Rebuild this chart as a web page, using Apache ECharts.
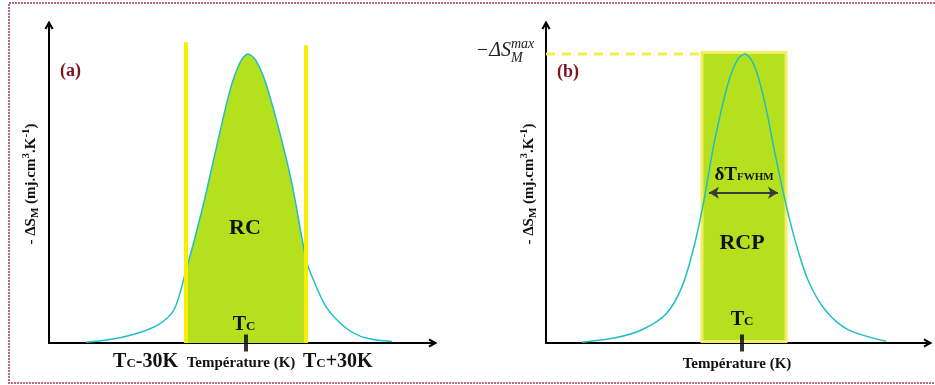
<!DOCTYPE html>
<html>
<head>
<meta charset="utf-8">
<script src="https://cdn.jsdelivr.net/npm/echarts@6/dist/echarts.min.js"></script>
<style>
html, body { margin: 0; padding: 0; background: #fff; }
#main { width: 935px; height: 385px; }
</style>
</head>
<body>
<div id="main"></div>
<script>
// temperature relative to Tc (K) and -dS_M normalised to its maximum
var tempA = [-80, -68, -56, -44, -36, -30, -22, -15, -8, -3, 1, 5, 10, 17, 23, 30, 33, 40, 50, 60, 73];
var dsA = [0.003, 0.012, 0.03, 0.063, 0.115, 0.25, 0.46, 0.67, 0.874, 0.97, 1.0, 0.977, 0.897, 0.724, 0.55, 0.29, 0.23, 0.126, 0.052, 0.017, 0.005];

var tempB = [-80, -64, -50, -38, -30, -24, -19, -14, -7, -2, 1.5, 6.5, 11.5, 16.5, 21.5, 26.5, 33, 41.5, 53, 72];
var dsB = [0.003, 0.017, 0.046, 0.10, 0.195, 0.333, 0.494, 0.69, 0.897, 0.983, 1.0, 0.954, 0.828, 0.655, 0.494, 0.356, 0.218, 0.115, 0.046, 0.006];

var bandA = [-30, 30];      // Tc-30K .. Tc+30K
var bandB = [-20, 22];      // full width at half maximum
var fwhmArrow = [-16.5, 18];
var peakB = 1.0;

var serif = '"Liberation Serif", "DejaVu Serif", serif';
var green = '#b4e01e';
var teal = '#1fbfc6';
var yellow = '#f7ef00';

function pairs(xs, ys) {
    var out = [];
    for (var i = 0; i < xs.length; i++) out.push([xs[i], ys[i]]);
    return out;
}
function inside(xs, ys, lo, hi) {
    var out = [];
    for (var i = 0; i < xs.length; i++) {
        if (xs[i] >= lo && xs[i] <= hi) out.push([xs[i], ys[i]]);
    }
    return out;
}

var curveA = pairs(tempA, dsA);
var curveB = pairs(tempB, dsB);
var fillA = inside(tempA, dsA, bandA[0], bandA[1]);

var chevron = 'path://M5,0 L10,9 L8,10 L5,5 L2,10 L0,9 Z';

function axisX(min, max) {
    return {
        type: 'value', min: min, max: max,
        axisLine: { show: true, onZero: false, symbol: ['none', chevron], symbolSize: [9, 10],
            lineStyle: { color: '#000', width: 2 } },
        axisTick: { show: false }, axisLabel: { show: false }, splitLine: { show: false }
    };
}
function axisY(gi, gap) {
    return {
        type: 'value', min: 0, max: 1.1, gridIndex: gi,
        axisLine: { show: true, onZero: false, symbol: ['none', chevron], symbolSize: [9, 10],
            lineStyle: { color: '#000', width: 2 } },
        axisTick: { show: false }, axisLabel: { show: false }, splitLine: { show: false },
        name: '- \u0394S{sub|M} (mj.cm{sup|3}.K{sup|-1})',
        nameLocation: 'middle', nameRotate: 90, nameGap: gap,
        nameTextStyle: {
            fontFamily: serif, fontWeight: 'bold', fontSize: 15, color: '#111', lineHeight: 20,
            rich: {
                sub: { fontFamily: serif, fontWeight: 'bold', fontSize: 11, verticalAlign: 'bottom', lineHeight: 20 },
                sup: { fontFamily: serif, fontWeight: 'bold', fontSize: 11, verticalAlign: 'top', lineHeight: 20 }
            }
        }
    };
}

var xa = axisX(-98.5, 93.5); xa.gridIndex = 0;
var xb = axisX(-98, 93); xb.gridIndex = 1;

var option = {
    animation: false,
    backgroundColor: '#fff',
    grid: [
        { left: 49, top: 25, width: 384, height: 318, outerBoundsMode: 'none' },
        { left: 546, top: 25, width: 382, height: 318, outerBoundsMode: 'none' }
    ],
    xAxis: [xa, xb],
    yAxis: [axisY(0, 8), axisY(1, 7)],
    series: [
        // (a) refrigerant capacity area
        { type: 'line', xAxisIndex: 0, yAxisIndex: 0, data: fillA, smooth: 0.3, symbol: 'none',
          lineStyle: { width: 0 }, areaStyle: { color: green, opacity: 1 }, z: 1 },
        { type: 'line', xAxisIndex: 0, yAxisIndex: 0, data: curveA, smooth: 0.3, symbol: 'none',
          lineStyle: { color: teal, width: 1.5 }, z: 2 },
        { type: 'line', xAxisIndex: 0, yAxisIndex: 0, data: [[bandA[0], 0], [bandA[0], 1.04]], symbol: 'none',
          lineStyle: { color: yellow, width: 4 }, z: 3 },
        { type: 'line', xAxisIndex: 0, yAxisIndex: 0, data: [[bandA[1], 0], [bandA[1], 1.03]], symbol: 'none',
          lineStyle: { color: yellow, width: 4 }, z: 3 },
        { type: 'scatter', xAxisIndex: 0, yAxisIndex: 0, data: [[0, 0]], symbol: 'rect', symbolSize: [4, 17],
          itemStyle: { color: '#000' }, z: 5 },

        // (b) relative cooling power rectangle
        { type: 'line', xAxisIndex: 1, yAxisIndex: 1, data: [[-98, peakB], [bandB[0], peakB]], symbol: 'none',
          lineStyle: { color: '#f6ee4a', width: 3, type: [9, 7] }, z: 1,
          markArea: { silent: true,
              itemStyle: { color: green, borderColor: '#f2ee60', borderWidth: 3 },
              data: [[{ coord: [bandB[0], 0.005] }, { coord: [bandB[1], peakB + 0.005] }]] } },
        { type: 'line', xAxisIndex: 1, yAxisIndex: 1, data: curveB, smooth: 0.3, symbol: 'none',
          lineStyle: { color: teal, width: 1.5 }, z: 2,
          markLine: { silent: true, symbol: ['arrow', 'arrow'], symbolSize: [9, 10],
              lineStyle: { color: '#3a3a3a', width: 2, type: 'solid' }, label: { show: false },
              data: [[{ coord: [fwhmArrow[0], 0.52] }, { coord: [fwhmArrow[1], 0.52] }]] } },
        { type: 'scatter', xAxisIndex: 1, yAxisIndex: 1, data: [[0, 0]], symbol: 'rect', symbolSize: [4, 17],
          itemStyle: { color: '#000' }, z: 5 }
    ]
};

var chart = echarts.init(document.getElementById('main'));
chart.setOption(option);

function px(g, x, y) { return chart.convertToPixel({ gridIndex: g }, [x, y]); }

var tcRich = {
    t: { fontFamily: serif, fontWeight: 'bold', fontSize: 20, color: '#111' },
    c: { fontFamily: serif, fontWeight: 'bold', fontSize: 13, color: '#111', verticalAlign: 'bottom', padding: [0, 0, 2, 0] }
};
function txt(x, y, text, size, align, extra) {
    var st = { text: text, x: x, y: y, fill: '#111', font: 'bold ' + size + 'px ' + serif,
        align: align || 'center', verticalAlign: 'middle' };
    if (extra) for (var k in extra) st[k] = extra[k];
    return { type: 'text', z: 20, style: st };
}

var a0 = px(0, 0, 0), aL = px(0, bandA[0], 0), aR = px(0, bandA[1], 0);
var b0 = px(1, 0, 0), bTop = px(1, -98, peakB);

chart.setOption({
    graphic: [
        { type: 'rect', z: 0, shape: { x: 9, y: 3, width: 940, height: 380 },
          style: { fill: null, stroke: '#b76b7a', lineWidth: 2, lineDash: [2, 1] } },
        txt(60, 71, '(a)', 18, 'left', { fill: '#7d1420' }),
        txt(557, 72, '(b)', 18, 'left', { fill: '#7d1420' }),
        txt(a0[0] - 2, px(0, 0, 0.062)[1], '{t|T}{c|C}', 20, 'center', { rich: tcRich }),
        txt(a0[0] - 1, px(0, 0, 0.398)[1], 'RC', 22, 'center'),
        txt(aL[0] - 8, 362, '{t|T}{c|C}{t|-30K}', 20, 'right', { rich: tcRich }),
        txt(aR[0] - 3, 362, '{t|T}{c|C}{t|+30K}', 20, 'left', { rich: tcRich }),
        txt(a0[0] - 5, 363, 'Temp\u00e9rature (K)', 15, 'center'),
        txt(b0[0], px(1, 0, 0.08)[1], '{t|T}{c|C}', 20, 'center', { rich: tcRich }),
        txt(b0[0], px(1, 0, 0.346)[1], 'RCP', 22, 'center'),
        txt(b0[0] + 2, px(1, 0, 0.581)[1], '{d|\u03b4T}{s|FWHM}', 19, 'center', { rich: {
            d: { fontFamily: serif, fontWeight: 'bold', fontSize: 19, color: '#111' },
            s: { fontFamily: serif, fontWeight: 'bold', fontSize: 11, color: '#111', verticalAlign: 'bottom', padding: [0, 0, 2, 0] }
        } }),
        txt(b0[0] - 5, 364, 'Temp\u00e9rature (K)', 15, 'center'),
        txt(bTop[0] - 35, bTop[1] - 3, '\u2212\u0394S', 20, 'right', { font: 'italic 20px ' + serif, fill: '#222' }),
        txt(bTop[0] - 35, bTop[1] - 10, 'max', 14, 'left', { font: 'italic 14px ' + serif, fill: '#222' }),
        txt(bTop[0] - 35, bTop[1] + 4, 'M', 14, 'left', { font: 'italic 14px ' + serif, fill: '#222' })
    ]
});
</script>
</body>
</html>
